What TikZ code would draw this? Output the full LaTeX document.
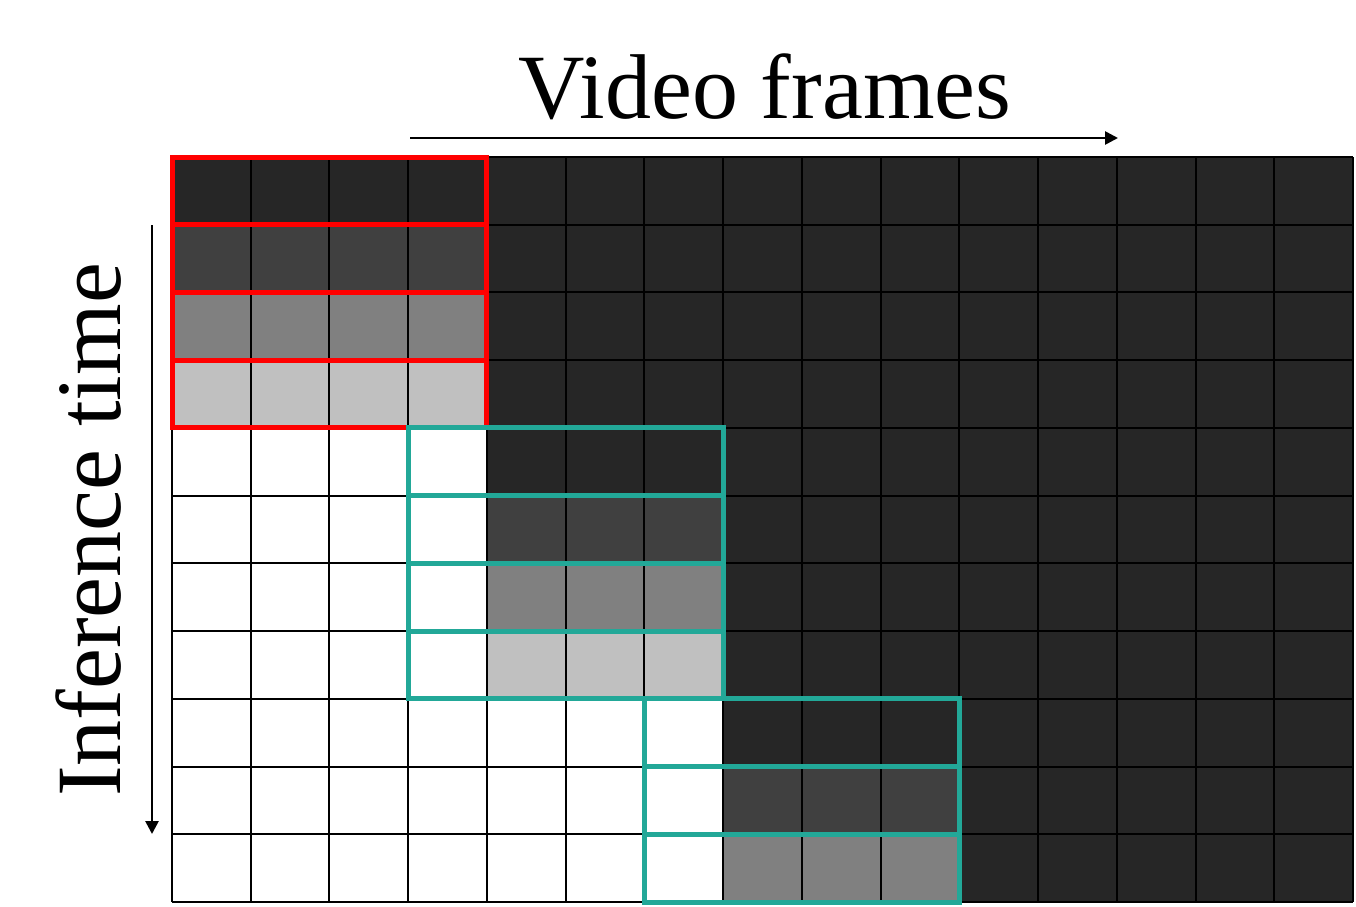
\documentclass[tikz,border=0pt]{standalone}
\usepackage{fontspec}
\setmainfont{Liberation Serif}
\usetikzlibrary{arrows.meta}
\definecolor{dk}{HTML}{262626}
\definecolor{g1}{HTML}{404040}
\definecolor{g2}{HTML}{808080}
\definecolor{g3}{HTML}{C0C0C0}
\definecolor{teal2}{RGB}{34,168,152}
\tikzset{
  gridline/.style={draw=black,line width=2pt},
  redbox/.style={draw=red,line width=5pt},
  tealbox/.style={draw=teal2,line width=5pt},
  axisarrow/.style={line width=2.6pt,-{Triangle[length=13pt,width=13pt]}},
  bigtext/.style={font=\fontsize{92}{100}\selectfont,inner sep=0pt}
}
\newcommand{\cx}[1]{(172+78.73*#1)}
\begin{document}
\begin{tikzpicture}[x=1pt,y=-1pt]
\useasboundingbox (0,0) rectangle (1356,906);
\def\W{78.733}
\def\H{67.727}
% dark background
\fill[dk] (172,157) rectangle (1353,902);
% white region
\fill[white] (172,{157+4*\H}) rectangle ({172+4*\W},902);
\fill[white] ({172+4*\W},{157+8*\H}) rectangle ({172+7*\W},902);
% grey gradations: block 1 (cols 0-3, rows 1-3)
\foreach \r/\c in {1/g1,2/g2,3/g3}{
  \fill[\c] (172,{157+\r*\H}) rectangle ({172+4*\W},{157+(\r+1)*\H});
}
% block 2 (cols 4-6, rows 5-7)
\foreach \r/\c in {5/g1,6/g2,7/g3}{
  \fill[\c] ({172+4*\W},{157+\r*\H}) rectangle ({172+7*\W},{157+(\r+1)*\H});
}
% block 3 (cols 7-9, rows 9-10)
\foreach \r/\c in {9/g1,10/g2}{
  \fill[\c] ({172+7*\W},{157+\r*\H}) rectangle ({172+10*\W},{157+(\r+1)*\H});
}
% grid
\foreach \i in {0,...,15}{
  \draw[gridline] ({172+\i*\W},157) -- ({172+\i*\W},902);
}
\foreach \j in {0,...,11}{
  \draw[gridline] (172,{157+\j*\H}) -- (1353,{157+\j*\H});
}
% red boxes
\foreach \r in {0,...,3}{
  \draw[redbox] (172,{157+\r*\H}) rectangle ({172+4*\W},{157+(\r+1)*\H});
}
% teal boxes
\foreach \r in {4,...,7}{
  \draw[tealbox] ({172+3*\W},{157+\r*\H}) rectangle ({172+7*\W},{157+(\r+1)*\H});
}
\foreach \r in {8,...,10}{
  \draw[tealbox] ({172+6*\W},{157+\r*\H}) rectangle ({172+10*\W},{157+(\r+1)*\H});
}
% labels
\node[bigtext,anchor=base] (vf) at (765,118) {Video frames};
\node[bigtext,anchor=base,rotate=90] (it) at (120,530) {Inference time};
% arrows
\coordinate (h0) at (410,138);
\coordinate (h1) at (1118,138);
\coordinate (v0) at (152,225);
\coordinate (v1) at (152,834);
\draw[axisarrow] (h0) -- (h1);
\draw[axisarrow] (v0) -- (v1);
\end{tikzpicture}
\end{document}
